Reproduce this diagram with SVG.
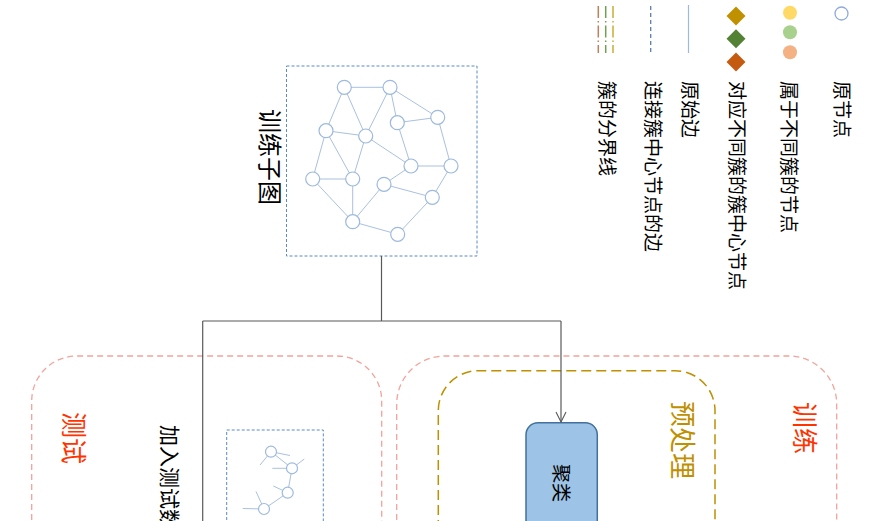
<svg xmlns="http://www.w3.org/2000/svg" width="877" height="521" viewBox="0 0 877 521">
<defs>
<style>
.t{font-family:"Liberation Sans","Noto Sans CJK SC",sans-serif;dominant-baseline:central;}
.edge{stroke:#A9C1E0;stroke-width:1;fill:none;}
.nd{fill:#fff;stroke:#9DB9DE;stroke-width:1.2;}
.conn{stroke:#595959;stroke-width:1.2;fill:none;}
.grp{fill:none;stroke:#F2A39B;stroke-width:1.3;stroke-dasharray:6 4;}
</style>
<marker id="arr" viewBox="0 0 12 12" refX="11" refY="6" markerWidth="12" markerHeight="12" markerUnits="userSpaceOnUse" orient="auto">
<path d="M1,1 L11,6 L1,11" fill="none" stroke="#595959" stroke-width="1.1"/>
</marker>
</defs>
<rect width="877" height="521" fill="#fff"/>

<g id="legend">
<circle cx="841.5" cy="13.5" r="6.5" fill="#fff" stroke="#8FAADC" stroke-width="1.3"/>
<circle cx="790" cy="12.7" r="7" fill="#FFD966"/>
<circle cx="790" cy="32.3" r="7" fill="#A9D18E"/>
<circle cx="790" cy="52.3" r="7" fill="#F4B183"/>
<path d="M736,6.5 L745.5,16 L736,25.5 L726.5,16Z" fill="#BF9000"/>
<path d="M736,29.2 L745.5,38.7 L736,48.2 L726.5,38.7Z" fill="#548235"/>
<path d="M736,52.5 L745.5,62 L736,71.5 L726.5,62Z" fill="#C55A11"/>
<line x1="688.5" y1="5" x2="688.5" y2="53" stroke="#9DB9DE" stroke-width="1.2"/>
<line x1="650.7" y1="6" x2="650.7" y2="53" stroke="#5A7FA8" stroke-width="1.3" stroke-dasharray="4 3"/>
<line x1="598.3" y1="6" x2="598.3" y2="53" stroke="#C0805A" stroke-width="1.5" stroke-dasharray="12 3 1.5 3"/>
<line x1="605.7" y1="6" x2="605.7" y2="53" stroke="#70A050" stroke-width="1.5" stroke-dasharray="12 3 1.5 3"/>
<line x1="613" y1="6" x2="613" y2="53" stroke="#C8B030" stroke-width="1.5" stroke-dasharray="12 3 1.5 3"/>
<text class="t" font-size="19" transform="translate(841,81) rotate(90)">原节点</text>
<text class="t" font-size="19" transform="translate(788,81) rotate(90)">属于不同簇的节点</text>
<text class="t" font-size="19" transform="translate(736,81) rotate(90)">对应不同簇的簇中心节点</text>
<text class="t" font-size="19" transform="translate(689,81) rotate(90)">原始边</text>
<text class="t" font-size="19" transform="translate(652,81) rotate(90)">连接簇中心节点的边</text>
<text class="t" font-size="19" transform="translate(606,81) rotate(90)">簇的分界线</text>
</g>

<g id="train-subgraph">
<rect x="286.5" y="66" width="190.5" height="190" fill="none" stroke="#5B8BC0" stroke-width="1" stroke-dasharray="3 2"/>
<text class="t" font-size="24" transform="translate(269,109) rotate(90)">训练子图</text>
<g>
<path class="edge" d="M344.3,87.3L390,87.3 M344.3,87.3L326,130.7 M344.3,87.3L365.7,136 M390,87.3L365.7,136 M390,87.3L397.3,122.7 M390,87.3L437.7,117.3 M397.3,122.7L437.7,117.3 M397.3,122.7L411,166 M437.7,117.3L451,166 M365.7,136L411,166 M326,130.7L365.7,136 M326,130.7L312.7,179 M326,130.7L352.7,179 M365.7,136L352.7,179 M411,166L451,166 M411,166L384,184.3 M451,166L432.3,197.3 M384,184.3L432.3,197.3 M312.7,179L352.7,179 M312.7,179L352.7,221.7 M352.7,179L352.7,221.7 M384,184.3L352.7,221.7 M352.7,221.7L397.7,234.3 M397.7,234.3L432.3,197.3"/>
<circle class="nd" cx="344.3" cy="87.3" r="7"/>
<circle class="nd" cx="390" cy="87.3" r="7"/>
<circle class="nd" cx="397.3" cy="122.7" r="7"/>
<circle class="nd" cx="437.7" cy="117.3" r="7"/>
<circle class="nd" cx="326" cy="130.7" r="7"/>
<circle class="nd" cx="365.7" cy="136" r="7"/>
<circle class="nd" cx="411" cy="166" r="7"/>
<circle class="nd" cx="451" cy="166" r="7"/>
<circle class="nd" cx="312.7" cy="179" r="7"/>
<circle class="nd" cx="352.7" cy="179" r="7"/>
<circle class="nd" cx="384" cy="184.3" r="7"/>
<circle class="nd" cx="432.3" cy="197.3" r="7"/>
<circle class="nd" cx="352.7" cy="221.7" r="7"/>
<circle class="nd" cx="397.7" cy="234.3" r="7"/>
</g>
</g>

<g id="test-group">
<path class="grp" d="M31.7,530 L31.7,401 A45,45 0 0 1 76.7,356 L336.7,356 A45,45 0 0 1 381.7,401 L381.7,530"/>
<text class="t" font-size="26" fill="#FF3300" transform="translate(73,412) rotate(90)">测试</text>
<text class="t" font-size="21" fill="#000" transform="translate(169,425) rotate(90)">加入测试数</text>
</g>

<g id="test-subgraph">
<path d="M226.7,530 L226.7,430 L323.3,430 L323.3,530" fill="none" stroke="#5B8BC0" stroke-width="1" stroke-dasharray="3 2"/>
<path class="edge" stroke="#8FAAD0" d="M271,451.7L290,455.5 M271,451.7L260,465 M271,451.7L292,468.3 M292,468.3L304.3,459 M292,468.3L272.3,468.3 M292,468.3L287.7,492.7 M287.7,492.7L273.3,486 M287.7,492.7L264,509 M264,509L256,491.5 M264,509L242.7,508.5"/>
<circle class="nd" cx="271" cy="451.7" r="5.5"/>
<circle class="nd" cx="292" cy="468.3" r="5.5"/>
<circle class="nd" cx="287.7" cy="492.7" r="5.5"/>
<circle class="nd" cx="264" cy="509" r="5.5"/>
</g>

<g id="train-group">
<path class="grp" d="M396.7,530 L396.7,404 A48,48 0 0 1 444.7,356 L788.7,356 A48,48 0 0 1 836.7,404 L836.7,530"/>
<text class="t" font-size="26" fill="#FF3300" transform="translate(804,402) rotate(90)">训练</text>
</g>

<g id="preprocess-group">
<path d="M438.3,530 L438.3,410.7 A40,40 0 0 1 478.3,370.7 L675,370.7 A40,40 0 0 1 715,410.7 L715,530" fill="none" stroke="#BF9000" stroke-width="1.5" stroke-dasharray="10 5"/>
<text class="t" font-size="26" fill="#BF9000" transform="translate(681.5,401) rotate(90)">预处理</text>
</g>

<g id="cluster">
<rect x="526" y="422.7" width="71.3" height="140" rx="12" ry="12" fill="#9DC3E6" stroke="#41719C" stroke-width="1.5"/>
<text class="t" font-size="19" transform="translate(560,464) rotate(90)">聚类</text>
</g>

<g id="connectors">
<path class="conn" d="M381.5,256 L381.5,321"/>
<path class="conn" d="M202.7,321 L561,321"/>
<path class="conn" d="M202.7,321 L202.7,530"/>
<path class="conn" d="M561,321 L561,422" marker-end="url(#arr)"/>
</g>
</svg>
